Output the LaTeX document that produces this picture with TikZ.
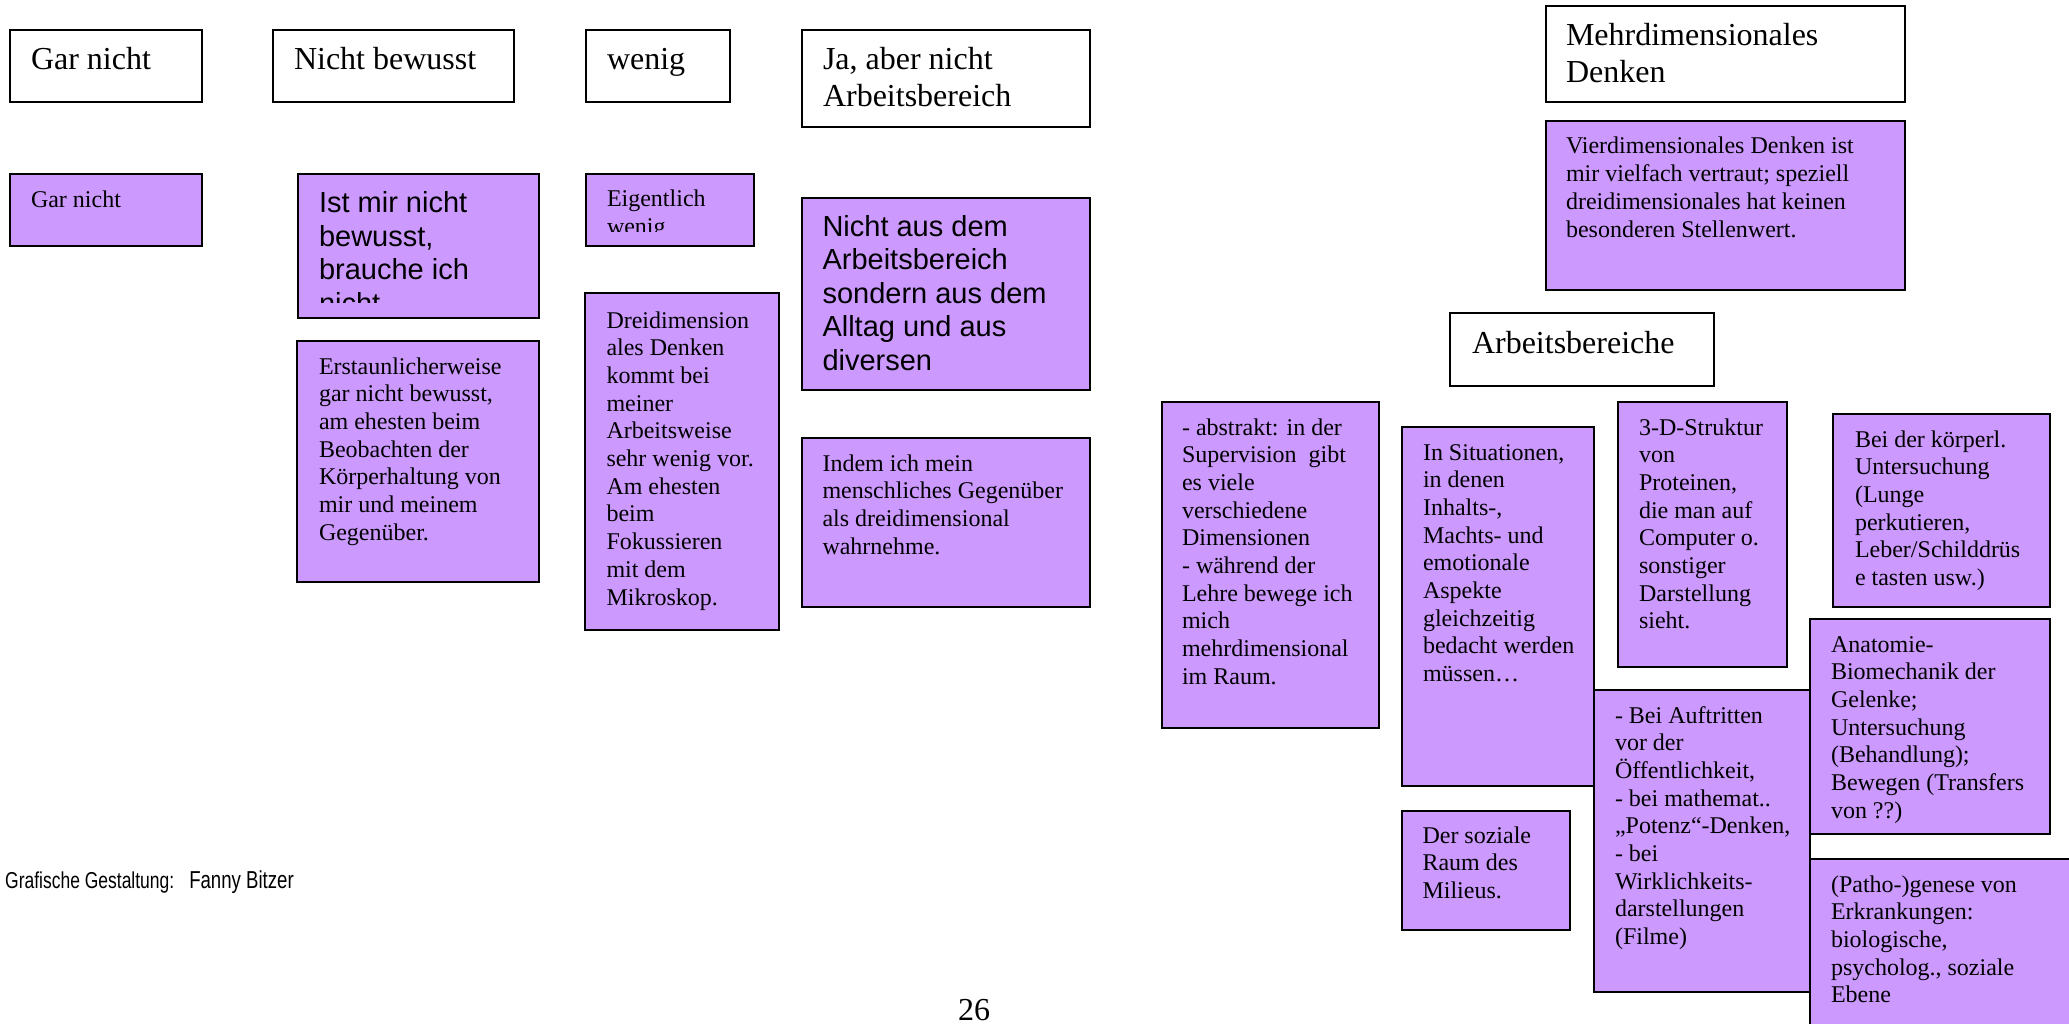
\documentclass[tikz,border=0pt]{standalone}
\usepackage{fontspec}
\setmainfont{Liberation Serif}
\newfontfamily\arialfont{Liberation Sans}
\newfontfamily\narrowsans[FakeStretch=0.76]{Liberation Sans}
\definecolor{boxpurple}{HTML}{CC99FF}

% Box contents: #1 width, #2 height, #3 first baseline below the top edge,
% #4 left padding, #5 lines separated by \par
\newcommand\boxlines[5]{%
  \vbox to #2pt{\hsize=#1pt\relax
    \parindent=0pt\parskip=0pt\leftskip=#4pt\relax
    \rightskip=0pt plus 1fil\relax\parfillskip=0pt plus 1fil\relax
    \hyphenpenalty=10000\relax
    \vskip\dimexpr #3pt-\ht\strutbox\relax
    \strut #5\par\vss}}

\tikzset{
  frame/.style={draw=black, line width=1.9pt, fill=white, inner sep=0pt,
                outer sep=0pt, anchor=north west},
  note/.style={frame, fill=boxpurple},
  head/.style={font=\fontsize{32}{36.8}\selectfont},
  small/.style={font=\fontsize{24}{27.7}\selectfont},
  sansnote/.style={font=\arialfont\fontsize{29}{33.5}\selectfont},
  plain/.style={inner sep=0pt, outer sep=0pt, anchor=north west},
}

\begin{document}
\begin{tikzpicture}[x=1pt, y=-1pt]
\useasboundingbox (0,0) rectangle (2069,1024);
\fill[white] (0,0) rectangle (2069,1024);
\clip (0,0) rectangle (2069,1024);

% ---- column headings ----
\node[frame, head] (hGar) at (10,30) {\boxlines{192}{72}{40}{21}{Gar nicht}};
\node[frame, head] (hBewusst) at (273,30) {\boxlines{241}{72}{40}{21}{Nicht bewusst}};
\node[frame, head] (hWenig) at (586,30) {\boxlines{144}{72}{40}{21}{wenig}};
\node[frame, head] (hJa) at (802,30) {\boxlines{288}{97}{40}{21}{Ja, aber nicht\par Arbeitsbereich}};
\node[frame, head] (hMehr) at (1546,6) {\boxlines{359}{96}{40}{20}{Mehrdimensionales\par Denken}};
\node[frame, head] (hArbeit) at (1450,313) {\boxlines{264}{73}{40}{22}{Arbeitsbereiche}};

% ---- answers, left group ----
\node[note, small] (aGar) at (10,174) {\boxlines{192}{72}{34}{21}{Gar nicht}};

\node[note, minimum width=241, minimum height=144] (aIst) at (298,174) {};
\begin{scope}
  \clip (aIst.north west) rectangle ([yshift=15pt]aIst.south east);
  \node[plain, sansnote] (aIstText) at (aIst.north west)
    {\boxlines{241}{144}{38.5}{21}{Ist mir nicht\par bewusst,\par brauche ich\par nicht}};
\end{scope}

\node[note, minimum width=168, minimum height=72] (aEig) at (586,174) {};
\begin{scope}
  \clip (aEig.north west) rectangle ([yshift=14pt]aEig.south east);
  \node[plain, small] (aEigText) at (aEig.north west)
    {\boxlines{168}{72}{33}{21}{Eigentlich\par wenig}};
\end{scope}

\node[note, sansnote] (aAlltag) at (802,198)
  {\boxlines{288}{192}{38}{20.5}{Nicht aus dem\par Arbeitsbereich\par sondern aus dem\par Alltag und aus\par diversen}};

\node[note, small] (aErst) at (297,341)
  {\boxlines{242}{241}{33}{22}{Erstaunlicherweise\par gar nicht bewusst,\par am ehesten beim\par Beobachten der\par Körperhaltung von\par mir und meinem\par Gegenüber.}};

\node[note, small] (aDrei) at (585,293)
  {\boxlines{194}{337}{35}{21.5}{Dreidimension\par ales Denken\par kommt bei\par meiner\par Arbeitsweise\par sehr wenig vor.\par Am ehesten\par beim\par Fokussieren\par mit dem\par Mikroskop.}};

\node[note, small] (aIndem) at (802,438)
  {\boxlines{288}{169}{33}{20.5}{Indem ich mein\par menschliches Gegenüber\par als dreidimensional\par wahrnehme.}};

% ---- multidimensional thinking, right group ----
\node[note, small] (aVier) at (1546,121)
  {\boxlines{359}{169}{33}{20}{Vierdimensionales Denken ist\par mir vielfach vertraut; speziell\par dreidimensionales hat keinen\par besonderen Stellenwert.}};

\node[note, small] (wAbstrakt) at (1162,402)
  {\boxlines{217}{326}{33}{20}{- abstrakt: in der\par Supervision\ \ gibt\par es viele\par verschiedene\par Dimensionen\par - während der\par Lehre bewege ich\par mich\par mehrdimensional\par im Raum.}};

\node[note, small] (wSituation) at (1402,427)
  {\boxlines{192}{359}{33}{21}{In Situationen,\par in denen\par Inhalts-,\par Machts- und\par emotionale\par Aspekte\par gleichzeitig\par bedacht werden\par müssen…}};

\node[note, small] (wProtein) at (1618,402)
  {\boxlines{169}{265}{33}{21}{3-D-Struktur\par von\par Proteinen,\par die man auf\par Computer o.\par sonstiger\par Darstellung\par sieht.}};

\node[note, small] (wKoerper) at (1833,414)
  {\boxlines{217}{193}{33}{22}{Bei der körperl.\par Untersuchung\par (Lunge\par perkutieren,\par Leber/Schilddrüs\par e tasten usw.)}};

\node[note, small] (wAnatomie) at (1810,619)
  {\boxlines{240}{215}{33}{21}{Anatomie-\par Biomechanik der\par Gelenke;\par Untersuchung\par (Behandlung);\par Bewegen (Transfers\par von ??)}};

\node[note, small] (wAuftritt) at (1594,690)
  {\boxlines{216}{302}{33}{21}{- Bei Auftritten\par vor der\par Öffentlichkeit,\par - bei mathemat..\par „Potenz“-Denken,\par - bei\par Wirklichkeits-\par darstellungen\par (Filme)}};

\node[note, small] (wMilieu) at (1402,811)
  {\boxlines{168}{119}{32}{20.5}{Der soziale\par Raum des\par Milieus.}};

\node[note, small] (wGenese) at (1810,859)
  {\boxlines{280}{200}{33}{21}{(Patho-)genese von\par Erkrankungen:\par biologische,\par psycholog., soziale\par Ebene}};

% ---- footer ----
\node[inner sep=0pt, anchor=base west] (credit) at (5,888)
  {{\narrowsans\fontsize{23}{26}\selectfont Grafische Gestaltung:}\hspace{15pt}{\narrowsans\fontsize{24.5}{28}\selectfont Fanny Bitzer}};
\node[inner sep=0pt, anchor=base, head] (pagenum) at (974,1020) {26};
\end{tikzpicture}
\end{document}
